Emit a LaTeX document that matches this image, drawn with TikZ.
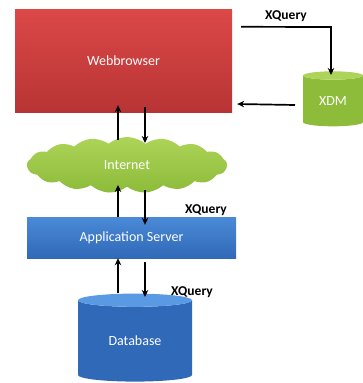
\documentclass[tikz,border=0pt]{standalone}
\usepackage{fontspec}
\setmainfont{Carlito}
\usetikzlibrary{shapes.geometric,shapes.symbols,arrows.meta,calc}
\definecolor{BrowserTop}{HTML}{DC4848}
\definecolor{BrowserBottom}{HTML}{B83434}
\definecolor{GreenTop}{HTML}{ADD458}
\definecolor{GreenBottom}{HTML}{8DBB3A}
\definecolor{BlueTop}{HTML}{4A8AD6}
\definecolor{BlueBottom}{HTML}{3069B8}
\definecolor{BlueLight}{HTML}{5A9AE2}

\begin{document}
\begin{tikzpicture}[
	x=1pt, y=-1pt, % pixel-like units, y downwards
	% Style for the rectangular boxes
	box/.style={
		rectangle,
		draw=none,
		text=white,
		font=\fontsize{14}{16}\selectfont,
		inner sep=0pt
	},
	% Style for the cylinder-like stores
	store/.style={
		cylinder,
		shape border rotate=90,
		draw=none,
		cylinder uses custom fill,
		text=white,
		font=\fontsize{14}{16}\selectfont,
		inner sep=0pt
	},
	% Style for the arrows
	flow/.style={
		draw=black,
		line width=1.7pt,
		-{Stealth[length=7pt,width=6.5pt]}
	},
	% Style for the bold labels
	tag/.style={
		font=\bfseries\fontsize{13.5}{15}\selectfont,
		text=black,
		inner sep=0pt
	}
	]
	
	\useasboundingbox (0,0) rectangle (363,383);
	
	% 1. Nodes
	% Webbrowser
	\node[box, minimum width=217pt, minimum height=103pt,
		top color=BrowserTop, bottom color=BrowserBottom] (browser) at (123.5,60.5) {Webbrowser};
	
	% XDM
	\node[store, minimum width=60pt, minimum height=55pt, aspect=0.3,
		cylinder body fill=GreenBottom, cylinder end fill=GreenTop] (xdm) at (333,101) {XDM};
	
	% Internet
	\node[cloud, cloud puffs=17, cloud puff arc=80, aspect=3.6, draw=none,
		minimum width=200pt, minimum height=56pt, text=white,
		font=\fontsize{14}{16}\selectfont,
		top color=GreenTop, bottom color=GreenBottom] (internet) at (127,165) {Internet};
	
	% Application Server
	\node[box, minimum width=209pt, minimum height=41pt,
		top color=BlueTop, bottom color=BlueBottom] (appserver) at (131.5,237.5) {Application Server};
	
	% Database
	\node[store, minimum width=114pt, minimum height=88pt, aspect=0.25,
		cylinder body fill=BlueBottom, cylinder end fill=BlueLight] (database) at (135,341) {Database};
	
	% Labels
	\node[tag] (xq1) at (286,16) {XQuery};
	\node[tag] (xq2) at (206,210) {XQuery};
	\node[tag] (xq3) at (192,292) {XQuery};
	
	% 2. Arrows
	\coordinate (upline) at (118,0);
	\coordinate (downline) at (145,0);
	\coordinate (corner) at (331,27);
	
	% Webbrowser <-> XDM
	\draw[flow] ($(browser.north east)+(9,18)$) -- (corner) -- ($(xdm.center)+(-2,-26)$);
	\draw[flow] ($(xdm.center)+(-38,4)$) -- ($(browser.east)+(5,43.5)$);
	
	% Webbrowser <-> Internet
	\draw[flow] ($(upline |- internet.center)+(0,-25)$) -- ($(upline |- browser.south)+(0,-7)$);
	\draw[flow] ($(downline |- browser.south)+(0,-5)$) -- ($(downline |- internet.center)+(0,-22)$);
	
	% Internet <-> Application Server
	\draw[flow] (upline |- appserver.north) -- ($(upline |- internet.center)+(0,20)$);
	\draw[flow] ($(downline |- internet.center)+(0,25)$) -- ($(downline |- appserver.north)+(0,8)$);
	
	% Application Server <-> Database
	\draw[flow] ($(upline |- database.center)+(0,-48)$) -- (upline |- appserver.south);
	\draw[flow] ($(downline |- appserver.south)+(0,4)$) -- ($(downline |- database.center)+(0,-44)$);
	
\end{tikzpicture}
\end{document}
